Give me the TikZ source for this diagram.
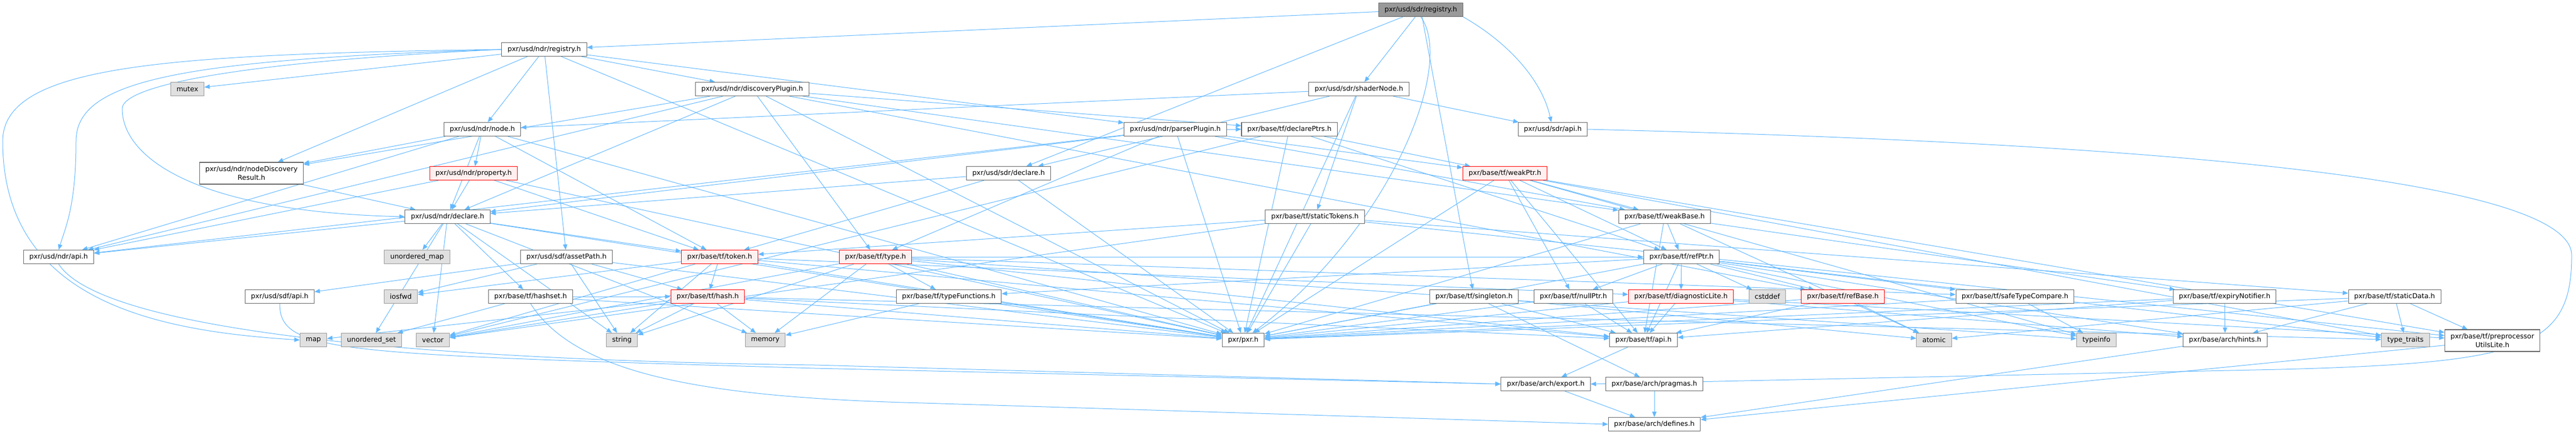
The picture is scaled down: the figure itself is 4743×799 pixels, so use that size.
\documentclass[tikz,border=0pt]{standalone}
\usepackage{fontspec}
\setmainfont{DejaVu Sans}
\usetikzlibrary{arrows.meta}

\definecolor{edgeblue}{HTML}{63B8FF}
\definecolor{boxline}{HTML}{666666}
\definecolor{sysline}{HTML}{999999}
\definecolor{sysfill}{HTML}{E0E0E0}
\definecolor{truncfill}{HTML}{FFF0F0}
\definecolor{rootfill}{HTML}{999999}

\pgfdeclarelayer{bg}
\pgfsetlayers{bg,main}

\tikzset{
  hdr/.style={draw=boxline, fill=white, line width=0.8pt, inner xsep=8pt, inner ysep=2pt,
    minimum height=18.75pt, align=center, font=\fontsize{9.4}{12}\selectfont},
  sys/.style={hdr, draw=sysline, fill=sysfill},
  trunc/.style={hdr, draw=red, fill=truncfill},
  roothdr/.style={hdr, fill=rootfill},
  incl/.style={draw=edgeblue, line width=0.75pt, -{Triangle[length=7.5pt,width=6pt]}},
}

\begin{document}
\begin{tikzpicture}[x=0.75pt,y=0.75pt,yscale=-1,xscale=1]
        \useasboundingbox (0,0) rectangle (4743,799);

        % Text Node
        \node [roothdr] (root) at (2616,18) {pxr/usd/sdr/registry.h};
        \node [hdr] (ndrReg) at (1002,91) {pxr/usd/ndr/registry.h};
        \node [sys] (mutex) at (345,164) {mutex};
        \node [hdr] (discPlugin) at (1385,164) {pxr/usd/ndr/discoveryPlugin.h};
        \node [hdr] (shaderNode) at (2502,164) {pxr/usd/sdr/shaderNode.h};
        \node [hdr] (node) at (888,238) {pxr/usd/ndr/node.h};
        \node [hdr] (parserPlugin) at (2164,238) {pxr/usd/ndr/parserPlugin.h};
        \node [hdr] (declPtrs) at (2374,238) {pxr/base/tf/declarePtrs.h};
        \node [hdr] (sdrApi) at (2859,238) {pxr/usd/sdr/api.h};
        \node [hdr, minimum height=30pt] (nodeDisc) at (463,319) {pxr/usd/ndr/nodeDiscovery\\Result.h};
        \node [trunc] (property) at (872,319) {pxr/usd/ndr/property.h};
        \node [hdr] (sdrDecl) at (1857,319) {pxr/usd/sdr/declare.h};
        \node [trunc] (weakPtr) at (2771,319) {pxr/base/tf/weakPtr.h};
        \node [hdr] (ndrDecl) at (824,399) {pxr/usd/ndr/declare.h};
        \node [hdr] (staticTokens) at (2421,399) {pxr/base/tf/staticTokens.h};
        \node [hdr] (weakBase) at (3065,399) {pxr/base/tf/weakBase.h};
        \node [hdr] (ndrApi) at (108,473) {pxr/usd/ndr/api.h};
        \node [sys] (unorderedMap) at (768,473) {unordered\_map};
        \node [hdr] (assetPath) at (1043,473) {pxr/usd/sdf/assetPath.h};
        \node [trunc] (token) at (1325,473) {pxr/base/tf/token.h};
        \node [trunc] (type) at (1612,473) {pxr/base/tf/type.h};
        \node [hdr] (refPtr) at (3096,473) {pxr/base/tf/refPtr.h};
        \node [hdr] (sdfApi) at (515,546) {pxr/usd/sdf/api.h};
        \node [sys] (iosfwd) at (738,546) {iosfwd};
        \node [hdr] (hashset) at (977,546) {pxr/base/tf/hashset.h};
        \node [trunc] (hash) at (1303,546) {pxr/base/tf/hash.h};
        \node [hdr] (typeFunc) at (1747,546) {pxr/base/tf/typeFunctions.h};
        \node [hdr] (singleton) at (2714,546) {pxr/base/tf/singleton.h};
        \node [hdr] (nullPtr) at (2897,546) {pxr/base/tf/nullPtr.h};
        \node [trunc] (diagLite) at (3095,546) {pxr/base/tf/diagnosticLite.h};
        \node [sys] (cstddef) at (3254,546) {cstddef};
        \node [trunc] (refBase) at (3393,546) {pxr/base/tf/refBase.h};
        \node [hdr] (safeType) at (3710,546) {pxr/base/tf/safeTypeCompare.h};
        \node [hdr] (expiry) at (4096,546) {pxr/base/tf/expiryNotifier.h};
        \node [hdr] (staticData) at (4409,546) {pxr/base/tf/staticData.h};
        \node [sys] (map) at (577,626) {map};
        \node [sys] (unorderedSet) at (684,626) {unordered\_set};
        \node [sys] (vector) at (797,626) {vector};
        \node [sys] (string) at (1145,626) {string};
        \node [sys] (memory) at (1409,626) {memory};
        \node [hdr] (pxrh) at (2289,626) {pxr/pxr.h};
        \node [hdr] (tfApi) at (3026,626) {pxr/base/tf/api.h};
        \node [sys] (atomic) at (3561,626) {atomic};
        \node [sys] (typeinfo) at (3860,626) {typeinfo};
        \node [hdr] (hints) at (4097,626) {pxr/base/arch/hints.h};
        \node [sys] (typeTraits) at (4429,626) {type\_traits};
        \node [hdr, minimum height=30pt] (preproc) at (4589,627) {pxr/base/tf/preprocessor\\UtilsLite.h};
        \node [hdr] (export) at (2846,707) {pxr/base/arch/export.h};
        \node [hdr] (pragmas) at (3046,707) {pxr/base/arch/pragmas.h};
        \node [hdr] (defines) at (3046,781) {pxr/base/arch/defines.h};

        \begin{pgfonlayer}{bg}
        %Straight Lines
        \draw [incl] (root) -- (ndrReg);
        \draw [incl] (root) -- (sdrDecl);
        \draw [incl] (root) -- (shaderNode);
        \draw [incl] (root) -- (singleton);
        \draw [incl] (root.south) .. controls (2680,120) and (2560,420) .. (pxrh);
        \draw [incl] (root.south east) .. controls (2780,80) and (2840,150) .. (sdrApi);
        %Straight Lines
        \draw [incl] (ndrReg) -- (mutex);
        \draw [incl] (ndrReg.west) .. controls (300,100) and (5,120) .. (5,260) .. controls (5,560) and (300,610) .. (map.west);
        \draw [incl] (ndrReg.west) .. controls (320,110) and (140,150) .. (140,260) .. controls (140,380) and (120,420) .. (ndrApi.north);
        \draw [incl] (ndrReg.west) .. controls (420,115) and (225,160) .. (225,200) .. controls (225,290) and (360,390) .. (ndrDecl.west);
        \draw [incl] (ndrReg) -- (node);
        \draw [incl] (ndrReg) -- (nodeDisc);
        \draw [incl] (ndrReg) -- (assetPath);
        \draw [incl] (ndrReg) -- (discPlugin);
        \draw [incl] (ndrReg) -- (parserPlugin);
        \draw [incl] (ndrReg) -- (pxrh);
        %Straight Lines
        \draw [incl] (discPlugin) -- (ndrApi);
        \draw [incl] (discPlugin) -- (ndrDecl);
        \draw [incl] (discPlugin) -- (nodeDisc);
        \draw [incl] (discPlugin) -- (declPtrs);
        \draw [incl] (discPlugin) -- (refBase);
        \draw [incl] (discPlugin) -- (type);
        \draw [incl] (discPlugin) -- (weakBase);
        \draw [incl] (discPlugin) -- (pxrh);
        %Straight Lines
        \draw [incl] (shaderNode) -- (node);
        \draw [incl] (shaderNode) -- (sdrDecl);
        \draw [incl] (shaderNode) -- (staticTokens);
        \draw [incl] (shaderNode) -- (sdrApi);
        \draw [incl] (shaderNode) -- (pxrh);
        \draw [incl] (sdrApi.east) .. controls (3600,255) and (4735,300) .. (4735,470) .. controls (4735,640) and (4650,668) .. (4200,680) -- (export.east);
        %Straight Lines
        \draw [incl] (node) -- (ndrApi);
        \draw [incl] (node) -- (ndrDecl);
        \draw [incl] (node) -- (nodeDisc);
        \draw [incl] (node) -- (property);
        \draw [incl] (node) -- (token);
        \draw [incl] (node) -- (pxrh);
        %Straight Lines
        \draw [incl] (parserPlugin) -- (ndrApi);
        \draw [incl] (parserPlugin) -- (ndrDecl);
        \draw [incl] (parserPlugin) -- (declPtrs);
        \draw [incl] (parserPlugin) -- (type);
        \draw [incl] (parserPlugin) -- (weakBase);
        \draw [incl] (parserPlugin) -- (weakPtr);
        \draw [incl] (parserPlugin) -- (pxrh);
        %Straight Lines
        \draw [incl] (declPtrs) -- (refPtr);
        \draw [incl] (declPtrs) -- (weakPtr);
        \draw [incl] (declPtrs) -- (vector);
        \draw [incl] (declPtrs) -- (pxrh);
        \draw [incl] (nodeDisc) -- (ndrDecl);
        \draw [incl] (property) -- (ndrApi);
        \draw [incl] (property) -- (ndrDecl);
        \draw [incl] (property) -- (token);
        \draw [incl] (property) -- (pxrh);
        \draw [incl] (sdrDecl) -- (ndrDecl);
        \draw [incl] (sdrDecl) -- (token);
        \draw [incl] (sdrDecl) -- (pxrh);
        %Straight Lines
        \draw [incl] (weakPtr) -- (nullPtr);
        \draw [incl] (weakPtr) -- (refPtr);
        \draw [incl] (weakPtr) -- (weakBase);
        \draw [incl] (weakPtr) -- (tfApi);
        \draw [incl] (weakPtr) -- (typeinfo);
        \draw [incl] (weakPtr) -- (typeTraits);
        \draw [incl] (weakPtr) -- (preproc);
        \draw [incl] (weakPtr) -- (pxrh);
        %Straight Lines
        \draw [incl] (ndrDecl) -- (ndrApi);
        \draw [incl] (ndrDecl) -- (token);
        \draw [incl] (ndrDecl) -- (hashset);
        \draw [incl] (ndrDecl) -- (unorderedMap);
        \draw [incl] (ndrDecl) -- (unorderedSet);
        \draw [incl] (ndrDecl) -- (vector);
        \draw [incl] (ndrDecl) -- (string);
        \draw [incl] (ndrDecl) -- (memory);
        \draw [incl] (ndrDecl) -- (pxrh);
        %Straight Lines
        \draw [incl] (staticTokens) -- (token);
        \draw [incl] (staticTokens) -- (staticData);
        \draw [incl] (staticTokens) -- (preproc);
        \draw [incl] (staticTokens) -- (vector);
        \draw [incl] (staticTokens) -- (pxrh);
        \draw [incl] (weakBase) -- (refPtr);
        \draw [incl] (weakBase) -- (expiry);
        \draw [incl] (weakBase) -- (tfApi);
        \draw [incl] (weakBase) -- (atomic);
        \draw [incl] (weakBase) -- (pxrh);
        %Straight Lines
        \draw [incl] (ndrApi.south) .. controls (180,600) and (700,662) .. (1500,672) -- (export.west);
        \draw [incl] (assetPath) -- (sdfApi);
        \draw [incl] (assetPath) -- (hash);
        \draw [incl] (assetPath) -- (iosfwd);
        \draw [incl] (assetPath) -- (string);
        \draw [incl] (assetPath) -- (pxrh);
        \draw [incl] (token) -- (hash);
        \draw [incl] (token) -- (diagLite);
        \draw [incl] (token) -- (tfApi);
        \draw [incl] (token) -- (iosfwd);
        \draw [incl] (token) -- (string);
        \draw [incl] (token) -- (vector);
        \draw [incl] (token) -- (pxrh);
        %Straight Lines
        \draw [incl] (type) -- (typeFunc);
        \draw [incl] (type) -- (refPtr);
        \draw [incl] (type) -- (safeType);
        \draw [incl] (type) -- (tfApi);
        \draw [incl] (type) -- (memory);
        \draw [incl] (type) -- (string);
        \draw [incl] (type) -- (typeinfo);
        \draw [incl] (type) -- (vector);
        \draw [incl] (type) -- (pxrh);
        %Straight Lines
        \draw [incl] (refPtr) -- (diagLite);
        \draw [incl] (refPtr) -- (nullPtr);
        \draw [incl] (refPtr) -- (refBase);
        \draw [incl] (refPtr) -- (safeType);
        \draw [incl] (refPtr) -- (typeFunc);
        \draw [incl] (refPtr) -- (tfApi);
        \draw [incl] (refPtr) -- (hints);
        \draw [incl] (refPtr) -- (typeinfo);
        \draw [incl] (refPtr) -- (typeTraits);
        \draw [incl] (refPtr) -- (cstddef);
        \draw [incl] (refPtr) -- (pxrh);
        %Straight Lines
        \draw [incl] (sdfApi.south) .. controls (515,650) and (620,652) .. (1500,678) -- (export.west);
        \draw [incl] (hashset) -- (hash);
        \draw [incl] (hashset) -- (unorderedSet);
        \draw [incl] (hashset.south) .. controls (1060,690) and (1300,732) .. (1700,742) -- (defines.west);
        \draw [incl] (hashset) -- (pxrh);
        \draw [incl] (hash) -- (string);
        \draw [incl] (hash) -- (memory);
        \draw [incl] (hash) -- (vector);
        \draw [incl] (hash) -- (map);
        \draw [incl] (hash) -- (tfApi);
        \draw [incl] (hash) -- (typeTraits);
        \draw [incl] (hash) -- (pxrh);
        %Straight Lines
        \draw [incl] (diagLite) -- (tfApi);
        \draw [incl] (diagLite) -- (hints);
        \draw [incl] (diagLite) -- (preproc);
        \draw [incl] (diagLite) -- (pxrh);
        \draw [incl] (nullPtr) -- (tfApi);
        \draw [incl] (nullPtr) -- (pxrh);
        \draw [incl] (singleton) -- (tfApi);
        \draw [incl] (singleton) -- (pragmas);
        \draw [incl] (singleton) -- (atomic);
        \draw [incl] (singleton) -- (pxrh);
        \draw [incl] (typeFunc) -- (memory);
        \draw [incl] (typeFunc) -- (pxrh);
        \draw [incl] (safeType) -- (typeinfo);
        \draw [incl] (safeType) -- (pxrh);
        \draw [incl] (refBase) -- (atomic);
        \draw [incl] (refBase) -- (tfApi);
        \draw [incl] (refBase) -- (pxrh);
        \draw [incl] (expiry) -- (hints);
        \draw [incl] (expiry) -- (tfApi);
        \draw [incl] (expiry) -- (pxrh);
        %Straight Lines
        \draw [incl] (staticData) -- (hints);
        \draw [incl] (staticData) -- (preproc);
        \draw [incl] (staticData) -- (atomic);
        \draw [incl] (staticData) -- (typeTraits);
        \draw [incl] (staticData) -- (pxrh);
        \draw [incl] (tfApi) -- (export);
        \draw [incl] (export) -- (defines);
        \draw [incl] (pragmas) -- (defines);
        \draw [incl] (hints) -- (defines);
        \draw [incl] (preproc) -- (defines);
        \end{pgfonlayer}

\end{tikzpicture}
\end{document}
